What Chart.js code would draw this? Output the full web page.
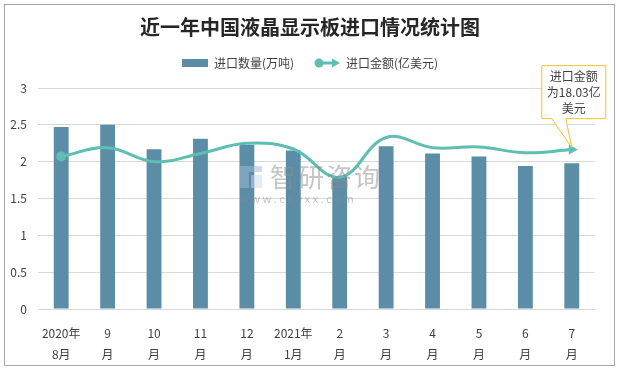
<!DOCTYPE html>
<html>
<head>
<meta charset="utf-8">
<script src="https://cdn.jsdelivr.net/npm/chart.js@4/dist/chart.umd.min.js"></script>
<style>
  html, body { margin: 0; padding: 0; background: #fff; }
</style>
</head>
<body>
<canvas id="chart" width="620" height="369"></canvas>
<script>
// data
const months = [['2020年', '8月'], ['9', '月'], ['10', '月'], ['11', '月'], ['12', '月'], ['2021年', '1月'],
                ['2', '月'], ['3', '月'], ['4', '月'], ['5', '月'], ['6', '月'], ['7', '月']];
const importQty = [2.47, 2.50, 2.17, 2.31, 2.23, 2.15, 1.80, 2.21, 2.11, 2.07, 1.94, 1.98];   // 万吨
const importValue = [17.25, 18.25, 16.67, 17.6, 18.75, 18.1, 14.9, 19.4, 18.25, 18.33, 17.67, 18.03]; // 亿美元
const yTicks = [0, 0.5, 1, 1.5, 2, 2.5, 3];
const noteLines = ['进口金额', '为18.03亿', '美元'];

const FONT = "'Noto Sans CJK SC', 'Noto Sans', sans-serif";
const BAR = '#5b8ea6';
const LINE = '#5cbfb1';

// legend icons
const barIcon = (() => {
    const c = document.createElement('canvas'); c.width = 26; c.height = 8;
    const x = c.getContext('2d'); x.fillStyle = BAR; x.fillRect(0, 0, 26, 8);
    return c;
})();
const lineIcon = (() => {
    const c = document.createElement('canvas'); c.width = 26; c.height = 12;
    const x = c.getContext('2d');
    x.strokeStyle = LINE; x.fillStyle = LINE; x.lineWidth = 3;
    x.beginPath(); x.moveTo(5, 6); x.lineTo(20, 6); x.stroke();
    x.beginPath(); x.arc(5, 6, 4.5, 0, Math.PI * 2); x.fill();
    x.beginPath(); x.moveTo(26, 6); x.lineTo(18, 1.5); x.lineTo(18, 10.5); x.closePath(); x.fill();
    return c;
})();

const frame = {
    id: 'frame',
    beforeDraw(chart) {
        const { ctx } = chart;
        ctx.save();
        ctx.fillStyle = '#fff'; ctx.fillRect(0, 0, chart.width, chart.height);
        ctx.strokeStyle = '#a6a6a6'; ctx.lineWidth = 1;
        ctx.strokeRect(4.5, 4.5, 610, 361);
        ctx.restore();
    }
};

const watermark = {
    id: 'watermark',
    afterDatasetsDraw(chart) {
        const { ctx } = chart;
        ctx.save();
        ctx.globalAlpha = 0.5;
        ctx.fillStyle = '#9db9d6';
        ctx.fillRect(240, 166, 9, 22);
        ctx.fillRect(249, 166, 13, 6);
        ctx.fillStyle = '#c9d9ea';
        ctx.fillRect(251, 175, 11, 13);
        ctx.fillStyle = '#8c8c8c';
        ctx.font = `26px ${FONT}`;
        ctx.textBaseline = 'middle';
        ctx.letterSpacing = '2px';
        ctx.fillText('智研咨询', 270, 177);
        ctx.font = `11px ${FONT}`;
        ctx.letterSpacing = '0px';
        ctx.fillText('w w w . c h y x x . c o m', 240, 199);
        ctx.restore();
    }
};

const note = {
    id: 'note',
    afterDraw(chart) {
        const pt = chart.getDatasetMeta(1).data[11];
        if (!pt) return;
        const { ctx } = chart;
        const px = pt.x, py = pt.y;
        const l = px - 30, r = px + 34, t = py - 84, b = py - 31;
        ctx.save();
        ctx.fillStyle = '#fff';
        ctx.strokeStyle = '#f4c22b';
        ctx.lineWidth = 1;
        ctx.beginPath();
        ctx.moveTo(l, t); ctx.lineTo(r, t); ctx.lineTo(r, b);
        ctx.lineTo(px - 6, b); ctx.lineTo(px, py - 2); ctx.lineTo(px - 20, b);
        ctx.lineTo(l, b); ctx.closePath();
        ctx.fill(); ctx.stroke();
        ctx.fillStyle = '#404040';
        ctx.font = `12px ${FONT}`;
        ctx.textAlign = 'center'; ctx.textBaseline = 'middle';
        noteLines.forEach((s, i) => ctx.fillText(s, (l + r) / 2, t + 11 + i * 16));
        ctx.restore();
    }
};

new Chart(document.getElementById('chart'), {
    data: {
        labels: months,
        datasets: [
            {
                type: 'bar', label: '进口数量(万吨)', data: importQty, yAxisID: 'y',
                backgroundColor: BAR, barPercentage: 0.32, categoryPercentage: 1, order: 2
            },
            {
                type: 'line', label: '进口金额(亿美元)', data: importValue, yAxisID: 'y1',
                borderColor: LINE, borderWidth: 3, tension: 0.4, order: 1,
                pointStyle: importValue.map((v, i) => i === 11 ? 'triangle' : 'circle'),
                pointRotation: importValue.map((v, i) => i === 11 ? 90 : 0),
                pointRadius: importValue.map((v, i) => i === 0 ? 5 : i === 11 ? 6 : 0),
                pointBackgroundColor: LINE, pointBorderWidth: 0
            }
        ]
    },
    options: {
        responsive: false,
        animation: false,
        layout: { padding: 0 },
        plugins: {
            tooltip: { enabled: false },
            title: {
                display: true, text: '近一年中国液晶显示板进口情况统计图', color: '#262626',
                font: { family: FONT, size: 20, weight: 'bold', lineHeight: 1 },
                padding: { top: 17, bottom: 0 }
            },
            // empty spacer between the legend and the plot
            subtitle: {
                display: true, text: ' ', weight: 500,
                font: { size: 1, lineHeight: 1 }, padding: { top: 8, bottom: 0 }
            },
            legend: {
                labels: {
                    usePointStyle: true, pointStyleWidth: 26, padding: 20,
                    color: '#404040', font: { family: FONT, size: 12 },
                    generateLabels: () => [
                        { text: '进口数量(万吨)', pointStyle: barIcon, fontColor: '#404040', datasetIndex: 0, lineWidth: 0 },
                        { text: '进口金额(亿美元)', pointStyle: lineIcon, fontColor: '#404040', datasetIndex: 1, lineWidth: 0 }
                    ]
                }
            }
        },
        scales: {
            x: {
                grid: { display: false },
                border: { color: '#d9d9d9' },
                ticks: {
                    color: '#404040', font: { family: FONT, size: 12, lineHeight: 1.75 },
                    padding: 6, maxRotation: 0, autoSkip: false
                },
                afterFit: s => { s.height = 60; }
            },
            y: {
                min: 0, max: 3,
                afterBuildTicks: s => { s.ticks = yTicks.map(v => ({ value: v })); },
                grid: { color: '#d9d9d9', drawTicks: false },
                border: { display: false },
                ticks: { color: '#404040', font: { family: FONT, size: 12 }, padding: 11, callback: v => String(v) },
                afterFit: s => { s.width = 38; }
            },
            // value axis of the line: kept invisible, only reserves the right margin
            y1: {
                position: 'right', min: 0, max: 25,
                grid: { display: false }, border: { display: false }, ticks: { display: false },
                afterFit: s => { s.width = 25; }
            }
        }
    },
    plugins: [frame, watermark, note]
});
</script>
</body>
</html>
